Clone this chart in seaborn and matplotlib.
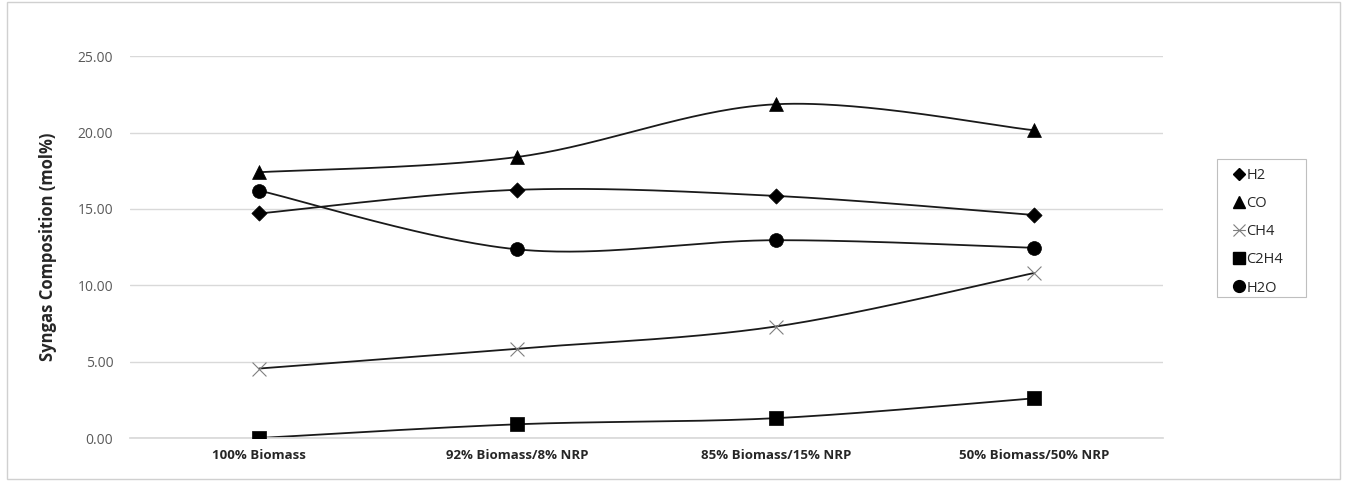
import numpy as np
import pandas as pd
import matplotlib
matplotlib.use("Agg")
import matplotlib.pyplot as plt
from matplotlib.lines import Line2D
from matplotlib.patches import Rectangle
import seaborn as sns

categories = ["100% Biomass", "92% Biomass/8% NRP", "85% Biomass/15% NRP", "50% Biomass/50% NRP"]
h2 = [14.70, 16.25, 15.85, 14.60]
co = [17.40, 18.40, 21.85, 20.15]
ch4 = [4.55, 5.85, 7.30, 10.80]
c2h4 = [0.00, 0.90, 1.30, 2.60]
h2o = [16.20, 12.35, 12.95, 12.45]
series_names = ["H2", "CO", "CH4", "C2H4", "H2O"]
series_values = [h2, co, ch4, c2h4, h2o]
y_ticks = [0, 5, 10, 15, 20, 25]

styles = {
    "H2": dict(marker="D", s=60, color="black", edge="black", lw=0.5),
    "CO": dict(marker="^", s=100, color="black", edge="black", lw=0.5),
    "CH4": dict(marker="x", s=100, color="#7f7f7f", edge="#7f7f7f", lw=0.8),
    "C2H4": dict(marker="s", s=90, color="black", edge="black", lw=0.5),
    "H2O": dict(marker="o", s=100, color="black", edge="black", lw=0.5),
}


def smooth_curve(xs, ys, n=60):
    """Bezier smoothing through each point (Catmull-Rom style, like spreadsheet smoothed lines)."""
    pts = np.column_stack([xs, ys]).astype(float)
    out = []
    m = len(pts)
    for i in range(m - 1):
        p0 = pts[i - 1] if i > 0 else pts[i]
        p1 = pts[i]
        p2 = pts[i + 1]
        p3 = pts[i + 2] if i + 2 < m else pts[i + 1]
        c1 = p1 + (p2 - p0) / 6.0
        c2 = p2 - (p3 - p1) / 6.0
        t = np.linspace(0, 1, n)[:, None]
        seg = ((1 - t) ** 3) * p1 + 3 * ((1 - t) ** 2) * t * c1 + 3 * (1 - t) * t ** 2 * c2 + t ** 3 * p2
        out.append(seg if i == 0 else seg[1:])
    return np.vstack(out)


sns.set_theme(style="white")
plt.rcParams["font.family"] = ["Open Sans", "DejaVu Sans"]

W, H = 1347, 484
fig = plt.figure(figsize=(W / 100, H / 100), dpi=100)
# outer chart frame
fig.patches.append(Rectangle((0.005, 0.01), 0.99, 0.985, transform=fig.transFigure,
                             fill=False, edgecolor="#d0d0d0", lw=1.0))
ax = fig.add_axes([0.0965, 0.095, 0.767, 0.789])

x_idx = np.arange(len(categories))
for name, vals in zip(series_names, series_values):
    curve = smooth_curve(x_idx, vals)
    cdf = pd.DataFrame({"x": curve[:, 0], "y": curve[:, 1]})
    sns.lineplot(data=cdf, x="x", y="y", sort=False, ax=ax, color="#1a1a1a", lw=1.3, zorder=2)

for name, vals in zip(series_names, series_values):
    st = styles[name]
    pdf = pd.DataFrame({"x": x_idx, "y": vals})
    if st["marker"] == "x":
        sns.scatterplot(data=pdf, x="x", y="y", ax=ax, marker="x", s=st["s"], color=st["color"],
                        linewidth=st["lw"], zorder=3)
    else:
        sns.scatterplot(data=pdf, x="x", y="y", ax=ax, marker=st["marker"], s=st["s"],
                        color=st["color"], edgecolor=st["edge"], linewidth=st["lw"], zorder=3)

ax.set_xlim(-0.5, len(categories) - 0.5)
ax.set_ylim(0, 25)
ax.set_yticks(y_ticks)
ax.set_yticklabels([f"{v:.2f}" for v in y_ticks], color="#595959", fontsize=10)
ax.set_xticks(x_idx)
ax.set_xticklabels(categories, fontsize=9.5, fontweight="bold", color="#262626")
ax.tick_params(axis="both", length=0, pad=12)
ax.tick_params(axis="x", pad=8)
ax.grid(axis="y", color="#d9d9d9", lw=1.0)
ax.set_axisbelow(True)
for side in ["top", "right", "left"]:
    ax.spines[side].set_visible(False)
ax.spines["bottom"].set_color("#d9d9d9")
ax.set_xlabel("")
ax.set_ylabel("Syngas Composition (mol%)", fontsize=12, fontweight="bold", color="#262626", labelpad=15)

handles = []
for name in series_names:
    st = styles[name]
    if st["marker"] == "x":
        h = Line2D([0], [0], color="#7f7f7f", lw=0.8, marker="x", markersize=9,
                   markeredgecolor="#7f7f7f", markeredgewidth=0.8)
    else:
        h = Line2D([0], [0], color="black", lw=0.0, marker=st["marker"],
                   markersize={"D": 6.5, "^": 8, "s": 8.5, "o": 8.5}[st["marker"]],
                   markerfacecolor="black", markeredgecolor="black")
    handles.append(h)

# legend box drawn as its own frame, entries placed inside it
fig.patches.append(Rectangle((1217 / W, 1 - 297 / H), 89 / W, 138 / H, transform=fig.transFigure,
                             fill=False, edgecolor="#bfbfbf", lw=0.8))
leg = fig.legend(handles, series_names, loc="upper left", bbox_to_anchor=(1233 / W, 1 - 168 / H),
                 frameon=False, fontsize=10.5, handlelength=0.85, handletextpad=0.05,
                 labelspacing=0.9, borderpad=0, borderaxespad=0)
for t in leg.get_texts():
    t.set_color("#262626")

fig.savefig("out.png", dpi=100)
